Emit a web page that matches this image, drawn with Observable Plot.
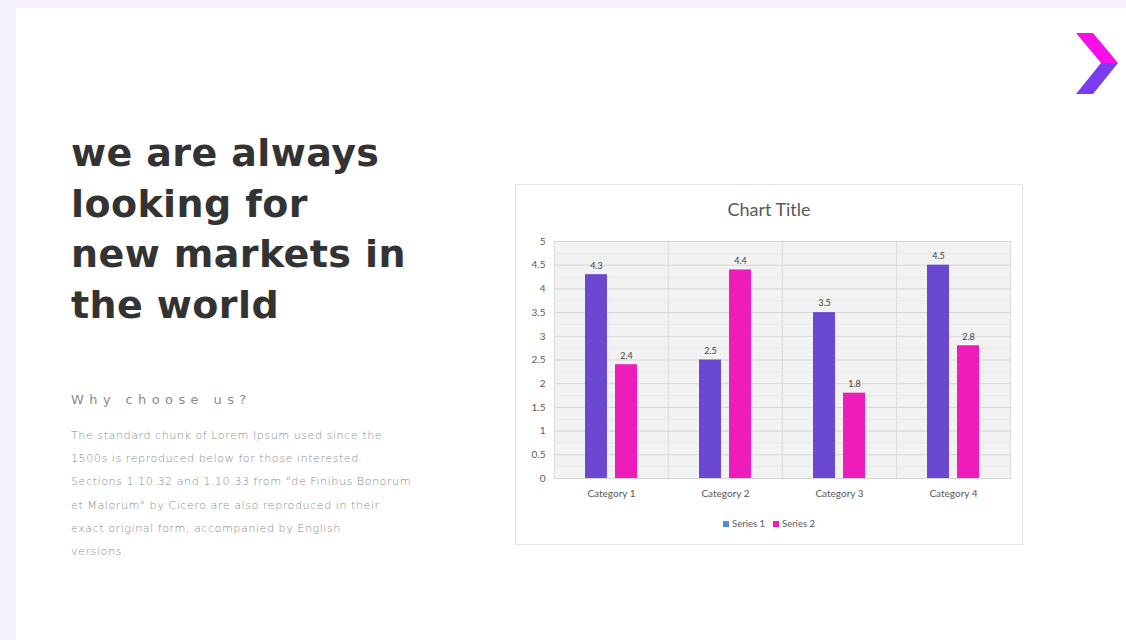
<!DOCTYPE html>
<html>
<head>
<meta charset="utf-8">
<script src="https://cdn.jsdelivr.net/npm/d3@7"></script>
<script src="https://cdn.jsdelivr.net/npm/@observablehq/plot@0.6"></script>
<style>
  html, body { margin: 0; padding: 0; }
  body { width: 1126px; height: 640px; background: #f6f2fd; position: relative; overflow: hidden; font-family: Lato, "Open Sans", sans-serif; }
  #panel { position: absolute; left: 16px; top: 8px; width: 1110px; height: 632px; background: #ffffff; }
  #heading { position: absolute; left: 71px; top: 128px; margin: 0; font-family: "DejaVu Sans", sans-serif; font-weight: 700; font-size: 38px; line-height: 50.5px; color: #333333; letter-spacing: 0.4px; }
  #why { position: absolute; left: 71px; top: 392px; font-family: "DejaVu Sans", sans-serif; font-weight: 400; font-size: 13px; letter-spacing: 5.4px; color: #8c8c8c; }
  #para { position: absolute; left: 71px; top: 424px; font-family: "DejaVu Sans", sans-serif; font-weight: 200; font-size: 11.2px; line-height: 23.2px; color: #8a8a8a; white-space: nowrap; letter-spacing: 0.5px; }
  .chev { position: absolute; left: 1076px; top: 33px; width: 42px; height: 61px; }
  #chevTop { background: #f60fe6; clip-path: polygon(0px 0px, 17px 0px, 42px 30px, 25px 30px); }
  #chevBot { background: #7b3cf0; clip-path: polygon(25px 30px, 42px 30px, 17px 61px, 0px 61px); }
  #chartBox { position: absolute; left: 515px; top: 184px; width: 506px; height: 359px; border: 1px solid #e4e4e4; background: #ffffff; }
  #chartTitle { position: absolute; left: 0; width: 100%; top: 13px; text-align: center; font-family: Lato, sans-serif; font-size: 18px; color: #595959; }
  #plotHolder { position: absolute; left: -1px; top: 40px; }
  #legend { position: absolute; left: 0; width: 100%; top: 333px; display: flex; justify-content: center; gap: 8px; font-family: Lato, sans-serif; font-size: 9.5px; color: #595959; }
  .li { display: flex; align-items: center; gap: 3px; }
  .sw { width: 6px; height: 6px; display: inline-block; }
</style>
</head>
<body>
<div id="panel"></div>
<div class="chev" id="chevTop"></div>
<div class="chev" id="chevBot"></div>
<h1 id="heading">we are always<br>looking for<br>new markets in<br>the world</h1>
<div id="why">Why choose us?</div>
<div id="para">The standard chunk of Lorem Ipsum used since the<br>1500s is reproduced below for those interested.<br>Sections 1.10.32 and 1.10.33 from "de Finibus Bonorum<br>et Malorum" by Cicero are also reproduced in their<br>exact original form, accompanied by English<br>versions.</div>
<div id="chartBox">
  <div id="chartTitle">Chart Title</div>
  <div id="plotHolder"></div>
  <div id="legend"></div>
</div>
<script>
const categories = ["Category 1", "Category 2", "Category 3", "Category 4"];
const seriesNames = ["Series 1", "Series 2"];
const series1 = [4.3, 2.5, 3.5, 4.5];
const series2 = [2.4, 4.4, 1.8, 2.8];
const yTicks = [0, 0.5, 1, 1.5, 2, 2.5, 3, 3.5, 4, 4.5, 5];
const yMinorTicks = [0.25, 0.75, 1.25, 1.75, 2.25, 2.75, 3.25, 3.75, 4.25, 4.75];
const barColors = ["#6a48d0", "#ee1cb8"];
const legendColors = ["#4a90d9", "#ee1cb8"];

const rows = [];
categories.forEach((c, i) => {
  rows.push({category: c, series: seriesNames[0], value: series1[i]});
  rows.push({category: c, series: seriesNames[1], value: series2[i]});
});

const chart = Plot.plot({
  width: 507,
  height: 290,
  marginLeft: 38,
  marginRight: 12,
  marginTop: 16,
  marginBottom: 37,
  style: {fontFamily: "Lato, sans-serif", fontSize: "10px", color: "#595959", background: "transparent", overflow: "visible"},
  fx: {domain: categories, padding: 0, label: null, axis: "bottom", tickSize: 0, tickPadding: 11},
  x: {domain: seriesNames, paddingInner: 0.26, paddingOuter: 0.97, axis: null},
  y: {domain: [0, 5], ticks: yTicks, tickSize: 0, tickPadding: 9, label: null, tickFormat: d3.format("")},
  color: {domain: seriesNames, range: barColors},
  marks: [
    Plot.frame({fill: "#f2f2f2", stroke: "#dcdcdc", strokeWidth: 1}),
    Plot.gridY(yMinorTicks, {stroke: "#e6e6e6", strokeOpacity: 1, strokeWidth: 0.8}),
    Plot.gridY(yTicks, {stroke: "#d6d6d6", strokeOpacity: 1}),
    Plot.barY(rows, {fx: "category", x: "series", y: "value", fill: "series"}),
    Plot.text(rows, {fx: "category", x: "series", y: "value", text: d => d3.format("")(d.value), dy: -9, fill: "#404040", fontSize: 9})
  ]
});
document.getElementById("plotHolder").appendChild(chart);

const legend = document.getElementById("legend");
seriesNames.forEach((s, i) => {
  const item = document.createElement("span");
  item.className = "li";
  const sw = document.createElement("span");
  sw.className = "sw";
  sw.style.background = legendColors[i];
  item.appendChild(sw);
  item.appendChild(document.createTextNode(s));
  legend.appendChild(item);
});
</script>
</body>
</html>
